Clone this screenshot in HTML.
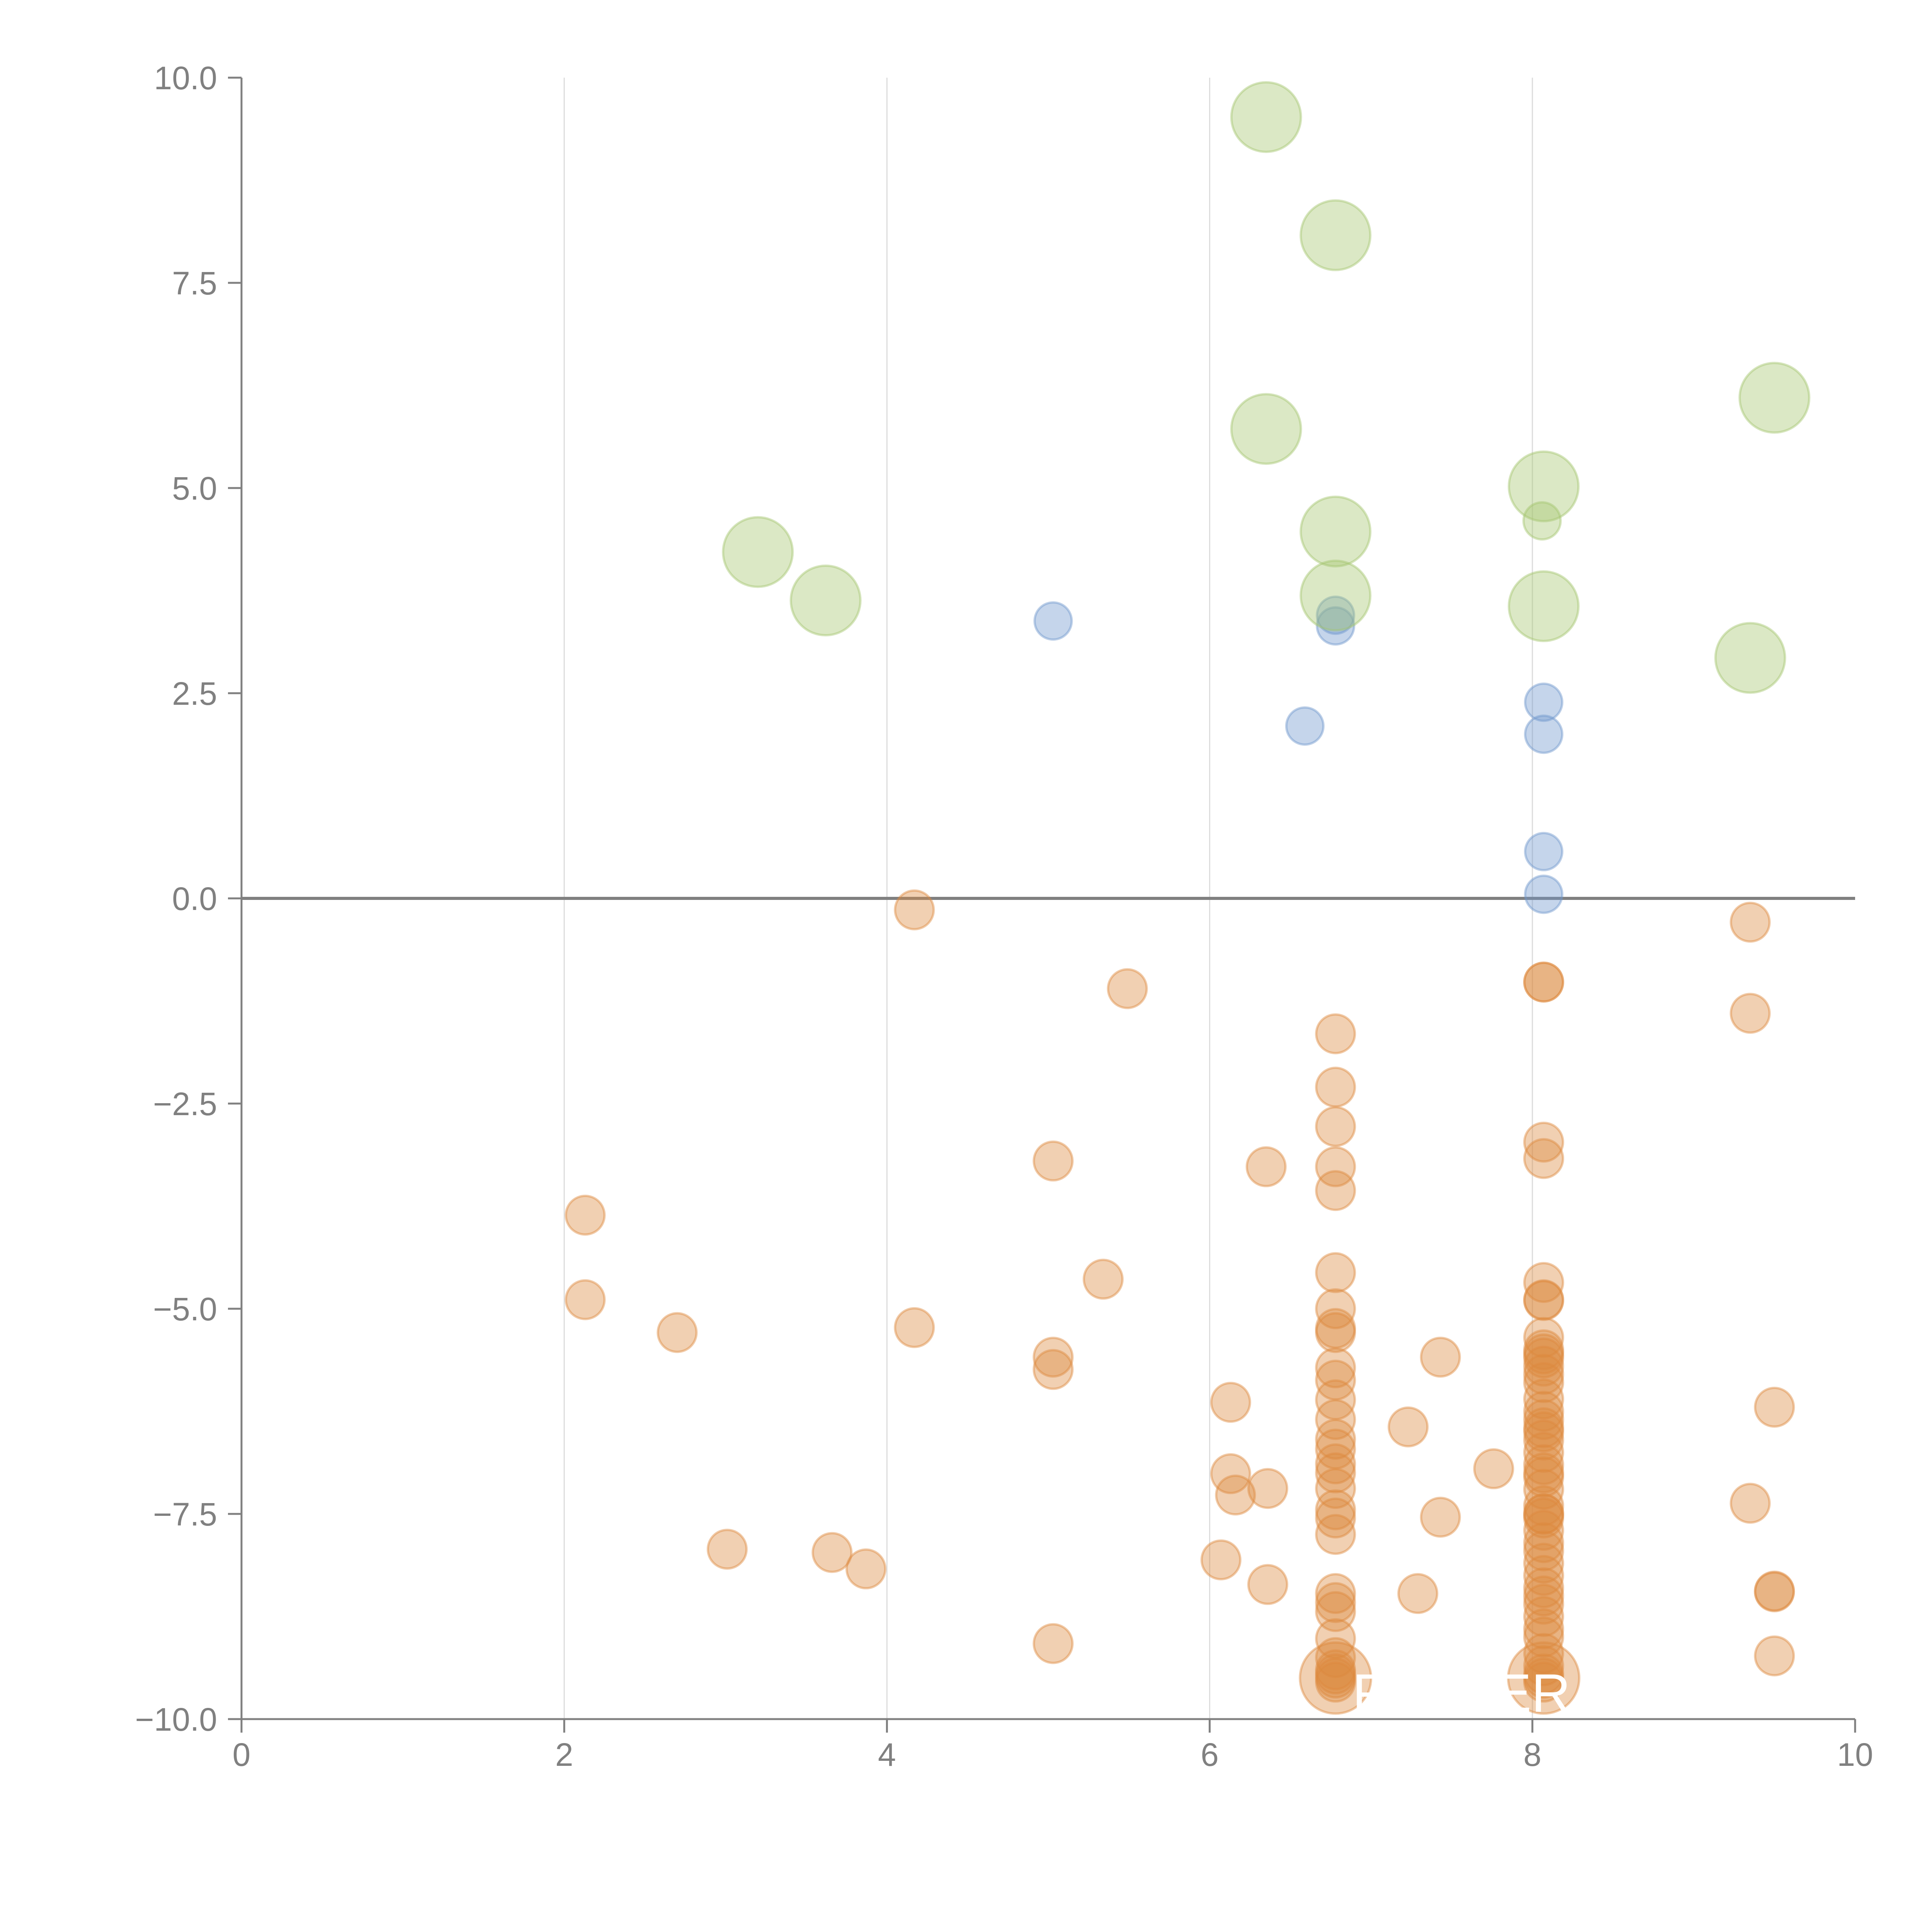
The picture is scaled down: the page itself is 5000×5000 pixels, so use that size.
<!DOCTYPE html>
<html><head><meta charset="utf-8"><style>
html,body{margin:0;padding:0;background:#fff;}
svg{display:block;font-family:"Liberation Sans",Arial,sans-serif;}
</style></head><body>
<svg id="chart" width="5000" height="5000" viewBox="0 0 5000 5000">
<g id="grid"></g>
<g id="axes"></g>
<g id="marks"></g>
<g id="labels">
<text x="3500" y="4430" font-size="140" fill="#fff">F</text>
<text x="3870" y="4430" font-size="140" fill="#fff">ER</text>
</g>
</svg>
<script>
// ---- data ----
const greenX = [6.35,6.78,9.50,6.35,8.07,8.06,6.78,3.20,6.78,3.62,8.07,9.35];
const greenY = [9.52,8.08,6.10,5.72,5.02,4.60,4.47,4.22,3.69,3.63,3.56,2.93];
const greenBig = [1,1,1,1,1,0,1,1,1,1,1,1];
const blueX = [5.03,6.78,6.78,6.59,8.07,8.07,8.07,8.07];
const blueY = [3.38,3.45,3.32,2.10,2.39,2.00,0.57,0.05];
const orangeX = [4.17,5.49,9.35,9.35,8.07,8.07,6.78,6.78,6.78,6.78,6.78,5.03,6.35,8.07,8.07,
 2.13,2.13,2.70,4.17,5.34,5.03,5.03,
 6.78,6.78,6.78,6.78,6.78,6.78,6.78,6.78,6.78,6.78,6.78,6.78,6.78,6.78,6.78,6.78,6.78,6.78,6.78,6.78,6.78,6.78,6.78,6.78,6.78,
 7.43,7.23,6.13,6.13,6.16,6.36,7.76,7.43,6.07,6.36,7.29,3.01,3.66,3.87,5.03,9.50,9.35,9.50,9.50,9.50,
 8.07,8.07,8.07,8.07,8.07,8.07,8.07,8.07,8.07,8.07,8.07,8.07,8.07,8.07,8.07,8.07,8.07,8.07,8.07,8.07,8.07,8.07,8.07,8.07,8.07,8.07,8.07,8.07,8.07,8.07,8.07,8.07,8.07,8.07,8.07,8.07,8.07,8.07,8.07,8.07,8.07];
const orangeY = [-0.14,-1.10,-0.29,-1.40,-1.02,-1.02,-1.65,-2.30,-2.78,-3.27,-3.56,-3.20,-3.27,-2.97,-3.17,
 -3.86,-4.89,-5.29,-5.23,-4.64,-5.59,-5.74,
 -4.56,-5.00,-5.24,-5.29,-5.72,-5.87,-6.11,-6.35,-6.59,-6.71,-6.89,-7.00,-7.19,-7.45,-7.55,-7.75,-8.47,-8.58,-8.69,-9.02,-9.25,-9.45,-9.50,-9.55,-9.40,
 -5.59,-6.44,-6.14,-7.01,-7.27,-7.19,-6.95,-7.54,-8.06,-8.36,-8.47,-7.93,-7.97,-8.17,-9.08,-6.20,-7.37,-8.44,-8.45,-9.23,
 -4.68,-4.89,-4.90,-5.35,-5.50,-5.60,-5.70,-5.80,-5.90,-6.10,-6.25,-6.35,-6.45,-6.60,-6.75,-6.90,-7.00,-7.05,-7.20,-7.40,-7.50,-7.55,-7.70,-7.85,-7.95,-8.10,-8.25,-8.40,-8.50,-8.60,-8.75,-8.90,-9.00,-9.20,-9.35,-9.45,-9.50,-9.55,-5.55,-6.50,-7.50];
const orangeBigX = [6.78,8.07];
const orangeBigY = [-9.50,-9.50];
const xTicks = [0,2,4,6,8,10];
const yTicks = [10,7.5,5,2.5,0,-2.5,-5,-7.5,-10];
const yTickLabels = ["10.0","7.5","5.0","2.5","0.0","\u22122.5","\u22125.0","\u22127.5","\u221210.0"];

// ---- scales ----
const X0=625, X1=4801, Y0=4449, Y1=201;
function sx(v){return X0+(v-0)/(10-0)*(X1-X0);}
function sy(v){return Y0-(v+10)/20*(Y0-Y1);}
const NS="http://www.w3.org/2000/svg";
function mk(tag,attrs,parent){const e=document.createElementNS(NS,tag);for(const k in attrs)e.setAttribute(k,attrs[k]);parent.appendChild(e);return e;}
const grid=document.getElementById('grid'),axes=document.getElementById('axes'),marks=document.getElementById('marks');

xTicks.forEach(t=>{
  if(t>0&&t<10){
    const g=mk('line',{x1:sx(t),x2:sx(t),y1:Y1,y2:Y0,stroke:'#dcdcdc','stroke-width':3},grid);
    
    
  }
  const tk=mk('line',{x1:sx(t),x2:sx(t),y1:Y0,y2:Y0+35,stroke:'#808080','stroke-width':5},axes);
  
  
  const tl=mk('text',{x:sx(t),y:4570,'font-size':84,fill:'#808080','text-anchor':'middle'},axes);
  tl.textContent=t;
  
  
});
yTicks.forEach((t,i)=>{
  const tk=mk('line',{x1:X0-35,x2:X0,y1:sy(t),y2:sy(t),stroke:'#808080','stroke-width':5},axes);
  
  
  const tl=mk('text',{x:562,y:sy(t)+30,'font-size':84,fill:'#808080','text-anchor':'end'},axes);
  tl.textContent=yTickLabels[i];
  
  
});
const ya=mk('line',{x1:X0,x2:X0,y1:Y1,y2:Y0+35,stroke:'#808080','stroke-width':5},axes);


const xa=mk('line',{x1:X0,x2:X1,y1:Y0,y2:Y0,stroke:'#808080','stroke-width':5},axes);



function dot(x,y,r,fill,name){
  const c=mk('circle',{cx:sx(x),cy:sy(y),r:r,fill:fill,'fill-opacity':0.4,stroke:fill,'stroke-opacity':0.45,'stroke-width':6},marks);
  
  
}
orangeBigX.forEach((x,i)=>dot(x,orangeBigY[i],92,'#dd8a3e','orange-bubble-large'));
orangeX.forEach((x,i)=>dot(x,orangeY[i],50,'#dd8a3e','orange-point'));
blueX.forEach((x,i)=>dot(x,blueY[i],48,'#6f97cc','blue-point'));
greenX.forEach((x,i)=>dot(x,greenY[i],greenBig[i]?90:48,'#a5c66e','green-bubble'));

const zl=mk('line',{x1:X0,x2:X1,y1:sy(0),y2:sy(0),stroke:'#808080','stroke-width':8},axes);


</script>
</body></html>
